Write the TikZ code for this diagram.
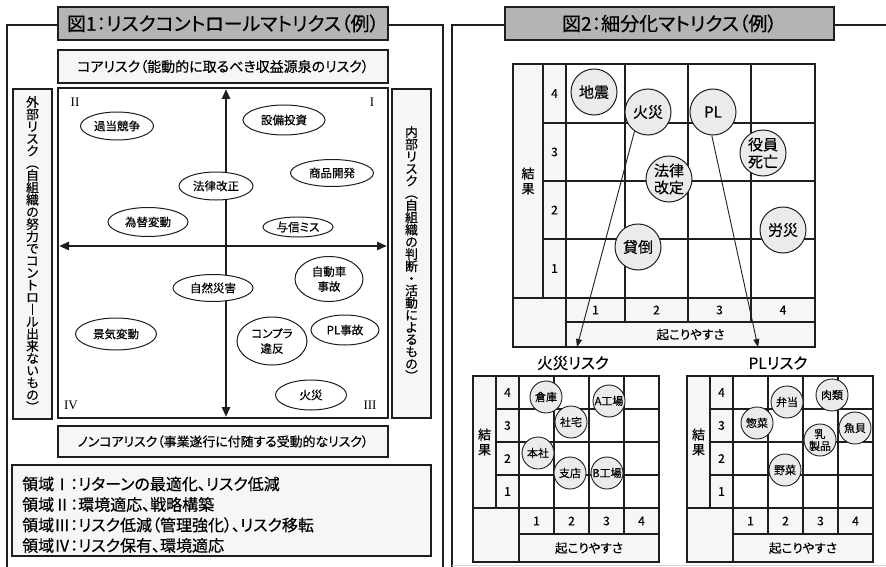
\documentclass[tikz,border=0pt]{standalone}
\usepackage{fontspec}
\setmainfont{Noto Sans CJK JP}[RawFeature={+palt}, FakeBold=0.35]
\newfontfamily\romfont{Liberation Serif}
\usetikzlibrary{shapes.geometric,arrows.meta}
\definecolor{ink}{HTML}{1E1E1E}
\definecolor{titlegray}{HTML}{B4B4B4}
\definecolor{panel}{HTML}{F6F6F6}
\definecolor{circgray}{HTML}{EBEBEB}
\newcommand{\fs}[1]{\fontsize{#1}{#1}\selectfont}
\tikzset{
 frameline/.style={draw=ink, line width=1.4pt},
 titlebox/.style={draw=ink, line width=1.3pt, fill=titlegray, minimum height=33pt, inner sep=0pt, font=\fs{19}},
 bandbox/.style={draw=ink, line width=1.2pt, fill=panel, inner sep=0pt},
 risk/.style={ellipse, draw=ink, line width=1pt, fill=white, inner sep=0pt, font=\fs{11.5}, align=center},
 axisarrow/.style={line width=2.6pt, draw=ink, {Triangle[length=10pt,width=8pt]}-{Triangle[length=10pt,width=8pt]}},
 quadnum/.style={font=\romfont\fontsize{13}{13}\selectfont, inner sep=0pt},
 vlabel/.style={align=center, inner sep=0pt, font=\fontsize{12.8}{12.2}\selectfont},
 gridline/.style={draw=ink, line width=1.2pt},
 bigcirc/.style={circle, draw=ink, line width=1pt, fill=circgray, minimum size=46pt, inner sep=0pt, font=\fontsize{15}{17}\selectfont, align=center},
 smallcirc/.style={circle, draw=ink, line width=0.9pt, fill=circgray, minimum size=32pt, inner sep=0pt},
 smalltext/.style={font=\fontsize{11}{12}\selectfont, inner sep=0pt, align=center},
 numlabel/.style={font=\fs{12}, inner sep=0pt},
 axlabel/.style={font=\fontsize{12.5}{14}\selectfont, inner sep=0pt, align=center},
 pointer/.style={draw=ink, line width=0.9pt, -{Triangle[length=8pt,width=6pt]}},
 legendline/.style={anchor=west, inner sep=0pt, font=\fs{16}},
}
\begin{document}
\begin{tikzpicture}[x=1pt,y=-1pt]
\useasboundingbox[fill=white] (0,0) rectangle (886,567);

% ===== Left panel =====
\node[titlebox, minimum width=330pt] (t1) at (223,23.5) {図1：リスクコントロールマトリクス（例）};
\draw[frameline] (t1.west |- 0,25) -- (7,25) -- (7,567);
\draw[frameline] (t1.east |- 0,25) -- (443,25) -- (443,567);

\node[bandbox, minimum width=330pt, minimum height=33pt, font=\fs{14}] (core) at (223,66.5) {コアリスク（能動的に取るべき収益源泉のリスク）};
\node[bandbox, minimum width=330pt, minimum height=31pt, font=\fs{12.9}] (noncore) at (223,441.5) {ノンコアリスク（事業遂行に付随する受動的なリスク）};

\node[bandbox, minimum width=39pt, minimum height=330pt, vlabel] (ext) at (32.5,254) {外\\部\\リ\\ス\\ク\\︵\\自\\組\\織\\の\\努\\力\\で\\コ\\ン\\ト\\ロ\\︱\\ル\\出\\来\\な\\い\\も\\の\\︶};
\node[bandbox, minimum width=39pt, minimum height=329pt, vlabel] (int) at (411.5,253.5) {内\\部\\リ\\ス\\ク\\︵\\自\\組\\織\\の\\判\\断\\・\\活\\動\\に\\よ\\る\\も\\の\\︶};

\node[draw=ink, line width=1.3pt, fill=white, minimum width=330pt, minimum height=330pt, inner sep=0pt] (quad) at (223,253) {};

\coordinate (axl) at (59,246);
\coordinate (axr) at (387,246);
\coordinate (axt) at (226,89);
\coordinate (axb) at (226,417);
\draw[axisarrow] (axl) -- (axr);
\draw[axisarrow] (axt) -- (axb);

\node[quadnum] (q2) at (75,102) {II};
\node[quadnum] (q1) at (372,102) {I};
\node[quadnum] (q4) at (71,405) {IV};
\node[quadnum] (q3) at (370,405) {III};

\node[risk, minimum width=73pt, minimum height=28pt] (e1) at (117,126) {過当競争};
\node[risk, minimum width=82pt, minimum height=30pt] (e2) at (284,120) {設備投資};
\node[risk, minimum width=83pt, minimum height=27pt] (e3) at (332,173) {商品開発};
\node[risk, minimum width=74pt, minimum height=28pt] (e4) at (216,186) {法律改正};
\node[risk, minimum width=80pt, minimum height=29pt] (e5) at (148,222) {為替変動};
\node[risk, minimum width=70pt, minimum height=20pt] (e6) at (298,227) {与信ミス};
\node[risk, minimum width=68pt, minimum height=45pt, font=\fontsize{11.5}{15}\selectfont] (e7) at (329,279) {自動車\\事故};
\node[risk, minimum width=80pt, minimum height=27pt] (e8) at (213,288) {自然災害};
\node[risk, minimum width=81pt, minimum height=32pt] (e9) at (116,334) {景気変動};
\node[risk, minimum width=70pt, minimum height=48pt, font=\fontsize{11.5}{15}\selectfont] (e10) at (272,341) {コンプラ\\違反};
\node[risk, minimum width=68pt, minimum height=30pt] (e11) at (345,330) {PL事故};
\node[risk, minimum width=71pt, minimum height=30pt] (e12) at (311,395) {火災};

\node[bandbox, minimum width=419pt, minimum height=91pt] (legend) at (221.5,510.5) {};
\node[legendline] (l1) at (22,484) {領域Ⅰ：リターンの最適化、リスク低減};
\node[legendline] (l2) at (22,504.5) {領域Ⅱ：環境適応、戦略構築};
\node[legendline] (l3) at (22,525) {領域Ⅲ：リスク低減（管理強化）、リスク移転};
\node[legendline] (l4) at (22,545.5) {領域Ⅳ：リスク保有、環境適応};

% ===== Right panel =====
\node[titlebox, minimum width=329pt] (t2) at (669.5,23.5) {図2：細分化マトリクス（例）};
\draw[frameline] (t2.west |- 0,25) -- (452,25) -- (452,567);
\draw[frameline] (t2.east |- 0,25) -- (886,25);
\draw[draw=gray!35, line width=0.8pt] (452,565.5) -- (886,565.5);

% big matrix
\fill[panel] (513,64) rectangle (566,347);
\fill[panel] (566,298) rectangle (815,347);
\draw[gridline] (513,64) rectangle (815,347);
\draw[gridline] (543,64) -- (543,298);
\draw[gridline] (566,64) -- (566,347);
\foreach \cx in {625,688,751} \draw[gridline] (\cx,64) -- (\cx,322);
\foreach \ry in {123,181,239} \draw[gridline] (543,\ry) -- (815,\ry);
\draw[gridline] (513,298) -- (815,298);
\draw[gridline] (566,322) -- (815,322);

\node[axlabel, font=\fontsize{13}{15}\selectfont] (bres) at (528,181) {結\\果};
\node[numlabel] (br4) at (554.5,93.5) {4};
\node[numlabel] (br3) at (554.5,152) {3};
\node[numlabel] (br2) at (554.5,210) {2};
\node[numlabel] (br1) at (554.5,268.5) {1};
\node[numlabel] (bc1) at (595.5,310) {1};
\node[numlabel] (bc2) at (656.5,310) {2};
\node[numlabel] (bc3) at (719.5,310) {3};
\node[numlabel] (bc4) at (783,310) {4};
\node[axlabel] (bx) at (690.5,334.5) {起こりやすさ};

\node[bigcirc] (jishin) at (594,92) {地震};
\node[bigcirc] (kasai) at (648,112) {火災};
\node[bigcirc] (pl) at (713,112) {PL};
\node[bigcirc] (yakuin) at (763,153) {役員\\死亡};
\node[bigcirc] (houritsu) at (669,179) {法律\\改定};
\node[bigcirc] (rousai) at (783,230) {労災};
\node[bigcirc] (kashi) at (638,247) {貸倒};

\coordinate (kasaiend) at (577,347);
\coordinate (plend) at (758,347);
\draw[pointer] (kasai.235) -- (kasaiend);
\draw[pointer] (pl.267) -- (plend);

% sub matrices
\foreach \X in {473,687} {
  \fill[panel] (\X,376) rectangle ({\X+46},562);
  \fill[panel] ({\X+46},508) rectangle ({\X+186},562);
  \draw[gridline] (\X,376) rectangle ({\X+186},562);
  \draw[gridline] ({\X+23},376) -- ({\X+23},508);
  \draw[gridline] ({\X+46},376) -- ({\X+46},562);
  \foreach \k in {81,116,151} \draw[gridline] ({\X+\k},376) -- ({\X+\k},534);
  \foreach \ry in {409,442,475} \draw[gridline] ({\X+23},\ry) -- ({\X+186},\ry);
  \draw[gridline] (\X,508) -- ({\X+186},508);
  \draw[gridline] ({\X+46},534) -- ({\X+186},534);
  \node[axlabel, font=\fontsize{13}{15}\selectfont] (res\X) at ({\X+11.5},442) {結\\果};
  \node[numlabel] (r4\X) at ({\X+34.5},392.5) {4};
  \node[numlabel] (r3\X) at ({\X+34.5},425.5) {3};
  \node[numlabel] (r2\X) at ({\X+34.5},458.5) {2};
  \node[numlabel] (r1\X) at ({\X+34.5},491.5) {1};
  \node[numlabel] (c1\X) at ({\X+63.5},521) {1};
  \node[numlabel] (c2\X) at ({\X+98.5},521) {2};
  \node[numlabel] (c3\X) at ({\X+133.5},521) {3};
  \node[numlabel] (c4\X) at ({\X+168.5},521) {4};
  \node[axlabel] (x\X) at ({\X+116},548) {起こりやすさ};
}

\node[font=\fs{15.5}, inner sep=0pt] (st1) at (573,363) {火災リスク};
\node[font=\fs{15.5}, inner sep=0pt] (st2) at (778,363) {PLリスク};

% fire risk circles
\node[smallcirc] (f1) at (546,397) {};  \node[smalltext] (f1t) at (f1) {倉庫};
\node[smallcirc] (f2) at (571,422) {};  \node[smalltext] (f2t) at (f2) {社宅};
\node[smallcirc] (f3) at (609,401) {};  \node[smalltext] (f3t) at (f3) {A工場};
\node[smallcirc] (f4) at (538,453) {};  \node[smalltext] (f4t) at (f4) {本社};
\node[smallcirc] (f5) at (570,473) {};  \node[smalltext] (f5t) at (f5) {支店};
\node[smallcirc] (f6) at (607,473) {};  \node[smalltext] (f6t) at (f6) {B工場};

% PL risk circles
\node[smallcirc] (p1) at (787,402) {};  \node[smalltext] (p1t) at (p1) {弁当};
\node[smallcirc] (p2) at (832,395) {};  \node[smalltext] (p2t) at (p2) {肉類};
\node[smallcirc] (p3) at (757,423) {};  \node[smalltext] (p3t) at (p3) {惣菜};
\node[smallcirc] (p4) at (855,428) {};  \node[smalltext] (p4t) at (p4) {魚貝};
\node[smallcirc] (p5) at (820,440) {};  \node[smalltext] (p5t) at (p5) {乳\\製品};
\node[smallcirc] (p6) at (785,470) {};  \node[smalltext] (p6t) at (p6) {野菜};

\end{tikzpicture}
\end{document}
